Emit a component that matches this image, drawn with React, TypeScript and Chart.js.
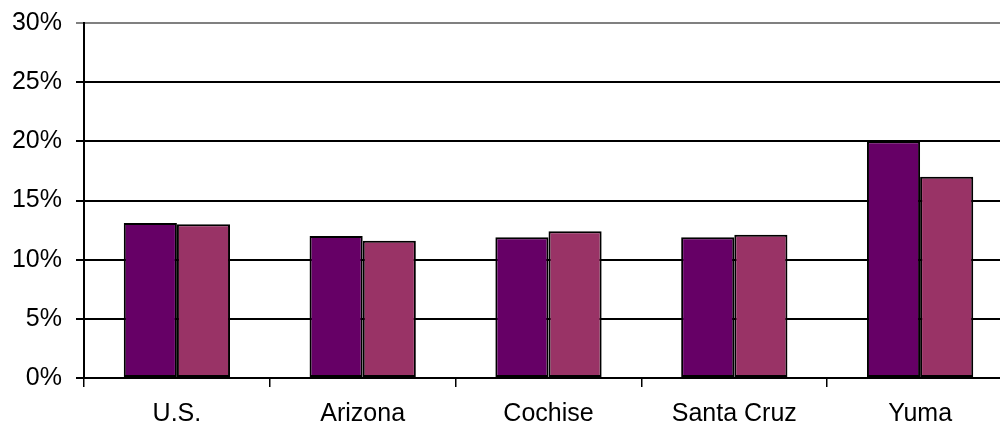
import React, { useEffect, useRef } from "react";
import { Chart, registerables } from "chart.js";

Chart.register(...registerables);

const categories = ["U.S.", "Arizona", "Cochise", "Santa Cruz", "Yuma"];
const seriesA = [13.1, 12.0, 11.9, 11.9, 20.0];
const seriesB = [13.0, 11.6, 12.4, 12.1, 17.0];
const yTicks = [0, 5, 10, 15, 20, 25, 30];

export default function App() {
  const ref = useRef<HTMLCanvasElement | null>(null);
  useEffect(() => {
    if (!ref.current) return;
    const chart = new Chart(ref.current, {
      type: "bar",
      data: {
        labels: categories,
        datasets: [
          {
            label: "A",
            data: seriesA,
            backgroundColor: "#660066",
            borderColor: "#000000",
            borderWidth: 2,
            borderSkipped: false,
            categoryPercentage: 0.572,
            barPercentage: 1,
          },
          {
            label: "B",
            data: seriesB,
            backgroundColor: "#993366",
            borderColor: "#000000",
            borderWidth: 2,
            borderSkipped: false,
            categoryPercentage: 0.572,
            barPercentage: 1,
          },
        ],
      },
      options: {
        animation: false,
        responsive: false,
        maintainAspectRatio: false,
        layout: { padding: { top: 0, right: 0, left: 0, bottom: 3 } },
        plugins: { legend: { display: false }, tooltip: { enabled: false } },
        scales: {
          x: {
            offset: true,
            afterFit: (s: any) => {
              s.height = 46;
            },
            grid: {
              offset: true,
              drawOnChartArea: false,
              drawTicks: true,
              tickLength: 9,
              color: "#000000",
              lineWidth: 1.5,
            },
            border: { color: "#000000", width: 2 },
            ticks: {
              color: "#000000",
              font: { family: "Liberation Sans", size: 25 },
              padding: 12,
            },
          },
          y: {
            min: 0,
            max: 30,
            afterFit: (s: any) => {
              s.width = 84;
              s.paddingTop = 23;
            },
            afterBuildTicks: (axis: any) => {
              axis.ticks = yTicks.map((v) => ({ value: v }));
            },
            grid: {
              color: (ctx: any) => (ctx.tick && ctx.tick.value === 30 ? "#808080" : "#000000"),
              lineWidth: 2,
              tickLength: 8,
            },
            border: { color: "#000000", width: 2 },
            ticks: {
              color: "#000000",
              font: { family: "Liberation Sans", size: 25 },
              padding: 14,
              callback: (v: any) => v + "%",
            },
          },
        },
      },
    });
    return () => chart.destroy();
  }, []);
  return (
    <div style={{ position: "fixed", left: 0, top: 0, width: 1000, height: 427, overflow: "hidden", background: "#fff" }}>
      <canvas ref={ref} width={1013} height={427} style={{ width: 1013, height: 427, display: "block" }} />
    </div>
  );
}
